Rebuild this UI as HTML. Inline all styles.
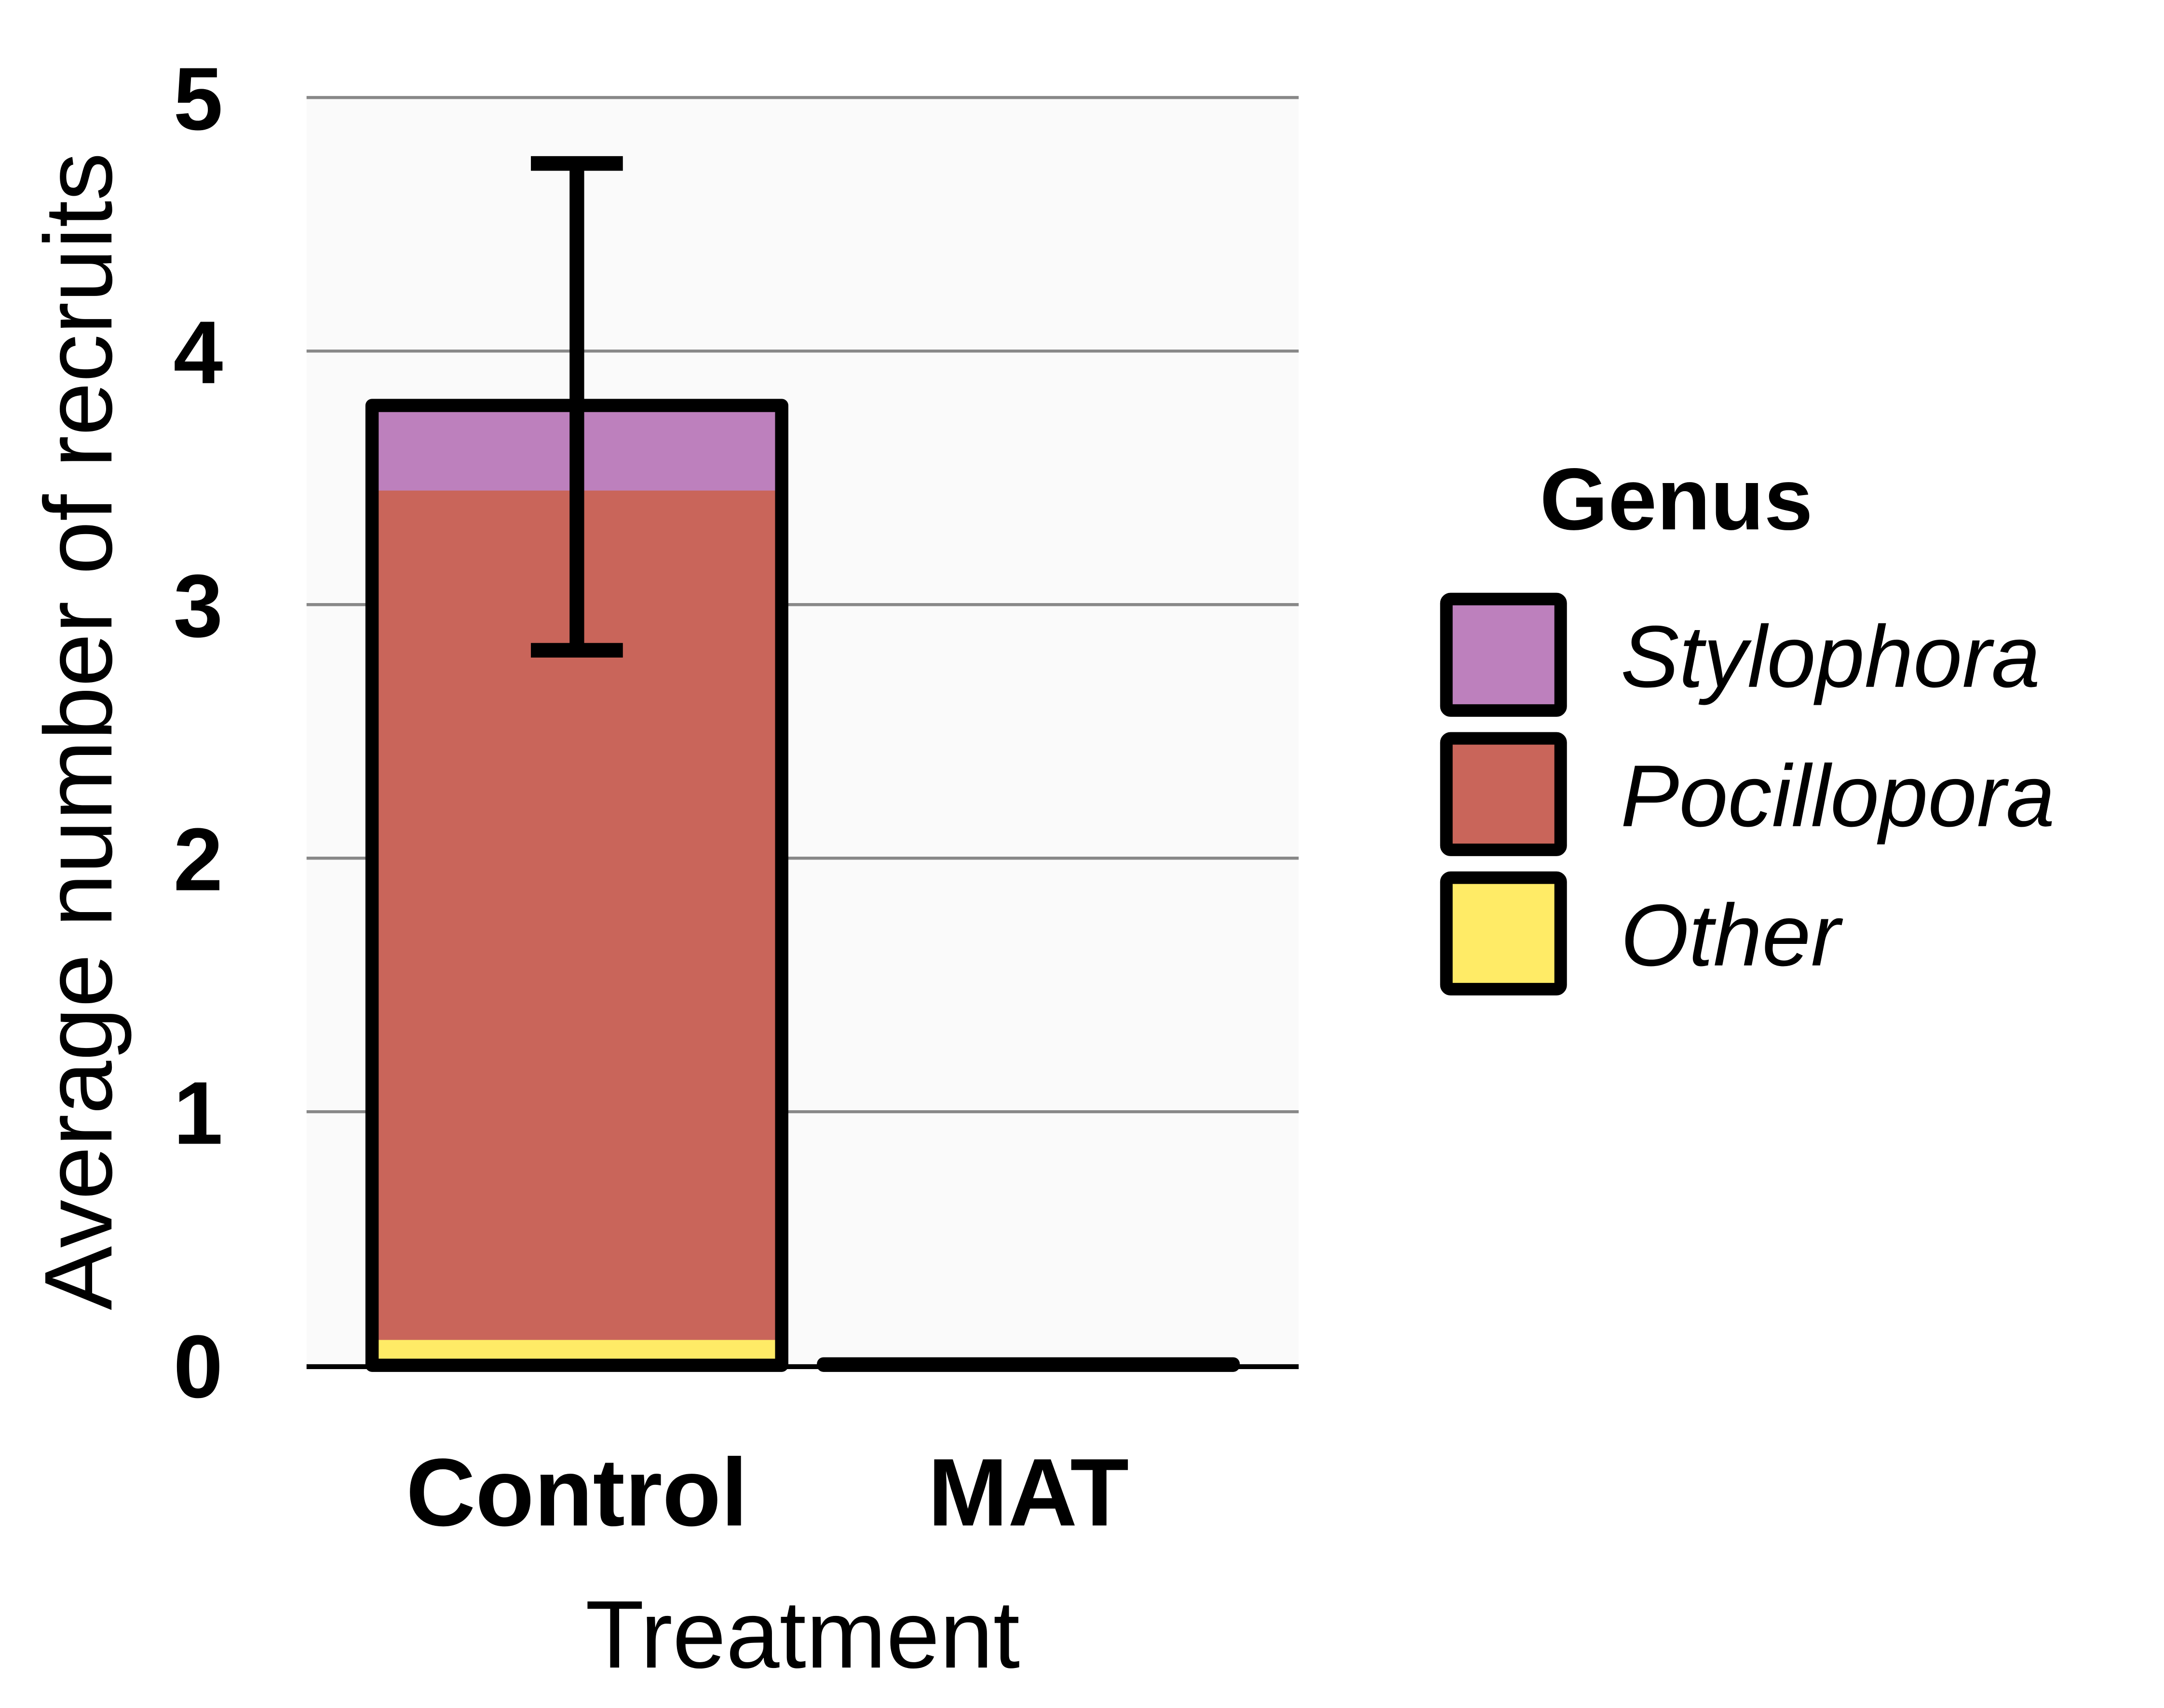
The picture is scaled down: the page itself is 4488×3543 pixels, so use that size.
<!DOCTYPE html>
<html><head><meta charset="utf-8"><style>
html,body{margin:0;padding:0;background:#fff;}
svg{display:block;}
text{font-family:"Liberation Sans",Arial,sans-serif;}
</style></head><body>
<svg id="chart" width="4488" height="3543" viewBox="0 0 1553 1226" preserveAspectRatio="none" xmlns="http://www.w3.org/2000/svg">
<rect x="220" y="70" width="712" height="910" fill="#fafafa"/>
<g id="grid"></g>
<g id="bars"></g>
<line x1="220" y1="981" x2="932" y2="981" stroke="#000" stroke-width="3.5"/>
<g id="yticks"></g>
<g id="xticks"></g>
<text x="576" y="1197" font-size="69" text-anchor="middle">Treatment</text>
<text transform="translate(80,525) rotate(-90)" font-size="69" text-anchor="middle">Average number of recruits</text>
<g>
<text x="1105" y="380" font-size="63" font-weight="bold">Genus</text>
<g id="legend-items"></g>
</g>
</svg>
<script>
const categories=["Control","MAT"];
const genera=["Other","Pocillopora","Stylophora"];
const colors=["#ffeb66","#c9655a","#bd80bd"];
const otherVals=[0.1,0];
const pocilloporaVals=[3.35,0];
const stylophoraVals=[0.33,0];
const errLow=[2.82,null];
const errHigh=[4.74,null];
const yTicks=[0,1,2,3,4,5];
const legendOrder=["Stylophora","Pocillopora","Other"];

const NS="http://www.w3.org/2000/svg";
const y0=980,yTop=70,yMax=5;
function Y(v){return y0-(v/yMax)*(y0-yTop);}
const bandL=220,bandW=712,nCat=categories.length;
function Xc(i){return bandL+bandW*(i+0.5)/nCat - (i===0?-(414-398):-(738-754));}
function mk(tag,attrs,parent){const e=document.createElementNS(NS,tag);for(const k in attrs)e.setAttribute(k,attrs[k]);parent.appendChild(e);return e;}
const grid=document.getElementById('grid'),bars=document.getElementById('bars'),yt=document.getElementById('yticks'),xt=document.getElementById('xticks');
yTicks.forEach(t=>{
  if(t>0){const l=mk('line',{x1:220,x2:932,y1:Y(t),y2:Y(t),stroke:'#888','stroke-width':2.2},grid);
  
  }
  const tx=mk('text',{x:160,y:Y(t)+23,'font-size':64,'font-weight':'bold','text-anchor':'end'},yt);
  tx.textContent=t;
  
  
});
const series=[otherVals,pocilloporaVals,stylophoraVals];
const halfW=147;
categories.forEach((c,i)=>{
  const cx=Xc(i);
  let cum=0;
  series.forEach((s,k)=>{
    const v=s[i];
    if(v>0){
      const r=mk('rect',{x:cx-halfW,y:Y(cum+v),width:halfW*2,height:Y(cum)-Y(cum+v),fill:colors[k]},bars);
      
      
    }
    cum+=v;
  });
  const tot=cum;
  const o=mk('rect',{x:cx-halfW,y:Y(tot)-1,width:halfW*2,height:Y(0)-Y(tot)+1,fill:'none',stroke:'#000','stroke-width':9.5,'stroke-linejoin':'round'},bars);
  
  
  if(errLow[i]!=null){
    const g=mk('g',{stroke:'#000','stroke-width':10.5},bars);
    
    
    mk('line',{x1:cx,x2:cx,y1:Y(errHigh[i]),y2:Y(errLow[i])},g);
    mk('line',{x1:cx-33,x2:cx+33,y1:Y(errHigh[i]),y2:Y(errHigh[i])},g);
    mk('line',{x1:cx-33,x2:cx+33,y1:Y(errLow[i]),y2:Y(errLow[i])},g);
  }
  const lt=mk('text',{x:cx,y:1095,'font-size':69,'font-weight':'bold','text-anchor':'middle'},xt);
  lt.textContent=c;
  
  
});
const li=document.getElementById('legend-items');
legendOrder.forEach((g,j)=>{
  const k=genera.indexOf(g);
  const yy=430+j*100;
  const r=mk('rect',{x:1038,y:yy,width:82,height:80,fill:colors[k],stroke:'#000','stroke-width':9,rx:3},li);
  
  
  const t=mk('text',{x:1163,y:yy+63,'font-size':63,'font-style':'italic'},li);
  t.textContent=g;
  
  
});
</script>
</body></html>
